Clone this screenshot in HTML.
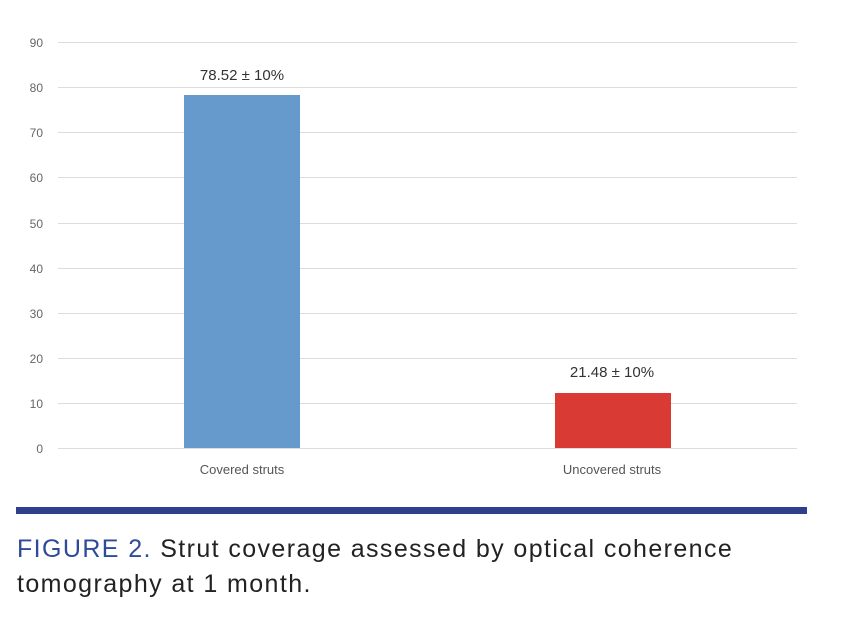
<!DOCTYPE html>
<html><head><meta charset="utf-8"><style>
body{margin:0;width:854px;height:630px;background:#fff;overflow:hidden;font-family:"Liberation Sans",sans-serif;}
.cap{position:absolute;left:17px;font-size:25px;color:#222;letter-spacing:1.4px;white-space:nowrap}
</style></head><body>
<svg width="854" height="630" style="position:absolute;left:0;top:0" font-family="Liberation Sans, sans-serif">
<g stroke="#dcdcdc" stroke-width="1">
<line x1="58" x2="797" y1="42.5" y2="42.5"/><line x1="58" x2="797" y1="87.5" y2="87.5"/>
<line x1="58" x2="797" y1="132.5" y2="132.5"/><line x1="58" x2="797" y1="177.5" y2="177.5"/>
<line x1="58" x2="797" y1="223.5" y2="223.5"/><line x1="58" x2="797" y1="268.5" y2="268.5"/>
<line x1="58" x2="797" y1="313.5" y2="313.5"/><line x1="58" x2="797" y1="358.5" y2="358.5"/>
<line x1="58" x2="797" y1="403.5" y2="403.5"/><line x1="58" x2="797" y1="448.5" y2="448.5"/>
</g>
<g fill="#666" font-size="12" text-anchor="end">
<text x="43" y="47">90</text><text x="43" y="92">80</text><text x="43" y="137">70</text>
<text x="43" y="182">60</text><text x="43" y="228">50</text><text x="43" y="273">40</text>
<text x="43" y="318">30</text><text x="43" y="363">20</text><text x="43" y="408">10</text>
<text x="43" y="453">0</text>
</g>
<rect x="184" y="95" width="116" height="353" fill="#6699cc"/>
<rect x="555" y="393" width="116" height="55" fill="#d93a33"/>
<g fill="#333" font-size="15" text-anchor="middle">
<text x="242" y="80">78.52 ± 10%</text><text x="612" y="377">21.48 ± 10%</text>
</g>
<g fill="#555" font-size="13" text-anchor="middle">
<text x="242" y="474">Covered struts</text><text x="612" y="474">Uncovered struts</text>
</g>
<rect x="16" y="507" width="791" height="7" fill="#2e3f8c"/>
</svg>
<div class="cap" style="top:535px"><span style="color:#2e4a9a">FIGURE 2.</span> Strut coverage assessed by optical coherence</div>
<div class="cap" style="top:570px">tomography at 1 month.</div>
</body></html>
